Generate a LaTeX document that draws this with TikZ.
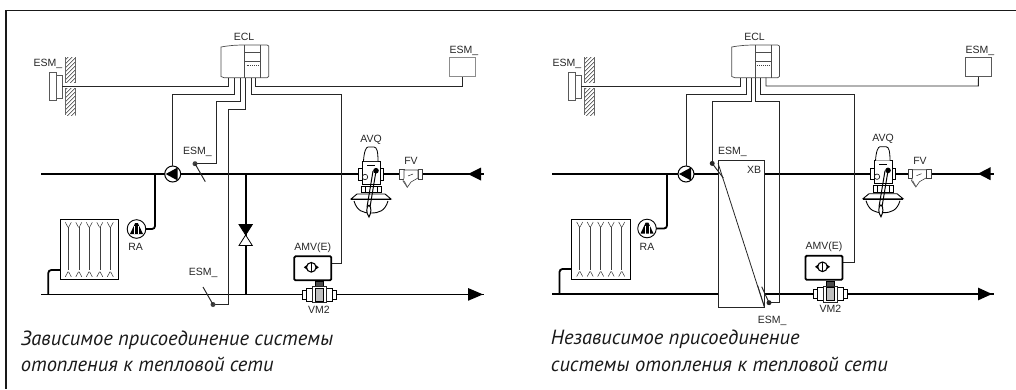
\documentclass[tikz,border=0pt]{standalone}
\usepackage{fontspec}
\setmainfont{Liberation Sans}
\newfontfamily\capfont{PT Sans}
\tikzset{
 x=1pt,y=-1pt,
 frame/.style={line width=1.1pt,draw=black!90},
 pipe/.style={line width=1.8pt,draw=black},
 wire/.style={line width=.95pt,draw=black!85},
 lab/.style={font=\fontsize{10.5}{12}\selectfont,inner sep=0pt,text=black!85,text height=7.6pt,text depth=0pt},
 captext/.style={font=\capfont\itshape\fontsize{20.5}{24}\selectfont,inner sep=0pt,anchor=base west,text=black!90},
 tip/.style={fill=black,draw=none},
 devline/.style={line width=.7pt,draw=black!70},
}
\newcommand{\avq}[1]{\begin{scope}[shift={#1}]
 \draw[line width=.8pt,fill=white] (-12.8,-5.7) rectangle (12.8,6);
 \draw[line width=.8pt,fill=white] (-9,-13)--(9,-13)--(9,10)--(-9,10)--cycle;
 \draw[line width=.8pt,fill=white] (-7.5,-13) .. controls (-7,-22) and (-5,-27) .. (-3,-27) -- (3,-27) .. controls (6,-27) and (7,-22) .. (7,-13);
 \draw[line width=1pt] (-4,-9)--(4,-9);
 \draw[line width=.6pt,fill=white] (-6,3) circle (2.7);
 \draw[line width=.9pt,fill=white] (-10,12) rectangle (10,18.5);
 \draw[line width=.6pt] (-6,12)--(-6,18.5) (6,12)--(6,18.5);
 \draw[line width=.9pt,fill=white] (-20,25) -- (-14,20) -- (14,20)--(20,25) -- cycle;
 \draw[line width=.9pt,fill=white] (-17,27) .. controls (-14,37) and (-8,39) .. (0,39) .. controls (8,39) and (14,37) .. (17,27);
 \draw[line width=.9pt] (-20,25.5) -- (20,25.5);
 \draw[line width=1pt] (5,-3) -- (-1,33) (2,-3)--(-4,33);
 \fill (5,-3.3) circle (2.8);
 \draw[line width=1pt,fill=white] (-2,31) .. controls (-5,33) and (-5,39) .. (-2,43) .. controls (0,39) and (1,34) .. (-2,31);
\end{scope}}
\newcommand{\fvv}[1]{\begin{scope}[shift={#1}]
 \draw[line width=.6pt,draw=black!75,fill=white] (-11.7,-4.8) rectangle (-7,4.8);
 \draw[line width=.6pt,draw=black!75,fill=white] (7,-4.8) rectangle (11.7,4.8);
 \draw[line width=.6pt,draw=black!75,fill=white] (-7,-4)--(7,-4)--(7,4)--(0,8)--(-3.7,13.3)--(-8,7)--(-7,4)--cycle;
 \draw[line width=.4pt] (-3,2)--(2,0);
 \draw[line width=1pt,black!60] (-7,7)--(-3.7,13);
\end{scope}}
\newcommand{\amv}[1]{\begin{scope}[shift={#1}]
 \draw[line width=1.8pt,rounded corners=1.2pt,fill=white] (-18.5,-12) rectangle (18.5,12);
 \draw[line width=1.1pt] (-1.5,-1) circle (4.8);
 \draw[line width=1.1pt] (-1.5,-5.8)--(-1.5,3.8);
 \fill (-9,-1)--(-6,-3.2)--(-6,1.2)--cycle (6,-1)--(3,-3.2)--(3,1.2)--cycle;
\end{scope}}
\newcommand{\vmv}[1]{\begin{scope}[shift={#1}]
 \draw[line width=1pt,fill=black!70] (-4,-13) rectangle (4,-8);
 \draw[line width=.8pt,fill=white] (-17,-4.5) rectangle (-13,4.5);
 \draw[line width=.8pt,fill=white] (13,-4.5) rectangle (17,4.5);
 \draw[line width=.8pt,fill=white] (-13,-6.5) rectangle (-7,6.5);
 \draw[line width=.8pt,fill=white] (7,-6.5) rectangle (13,6.5);
 \draw[line width=1pt,fill=white,draw=black!85] (-7,-8) rectangle (7,8);
 \draw[line width=.4pt,fill=black!25] (-4,-6.5) rectangle (4,6.5);
\end{scope}}
\newcommand{\ecl}[1]{\begin{scope}[shift={#1}]
 \draw[devline,fill=white] (0,2) .. controls (8,.5) and (15,0) .. (24,0) -- (46,0) -- (47.7,1) -- (47.7,31.5) -- (46,32.7) -- (3,32.7)-- (0,31.5) -- cycle;
 \draw[devline] (23.7,0)--(23.7,32.7) (39.5,0)--(39.5,32.7) (23.7,7)--(39.5,7) (23.7,16.3)--(39.5,16.3);
 \draw[line width=.9pt,dash pattern=on 1pt off .9pt,black!75] (25.5,20.7)--(38.5,20.7);
\end{scope}}
\newcommand{\rad}[1]{\begin{scope}[shift={#1}]
 \draw[line width=1pt,fill=white] (0,0) rectangle (58.4,60.5);
 \foreach \q in {8,18.5,29,39.5,50}{
  \draw[line width=.6pt,black!75] (\q,8)--(\q,51);
  \draw[line width=.5pt,black!80] (\q-3,3)--(\q-.3,8) (\q+3,3)--(\q+.3,8) (\q-3,57.5)--(\q-.3,52.5) (\q+3,57.5)--(\q+.3,52.5);}
\end{scope}}
\newcommand{\raV}[1]{\begin{scope}[shift={#1}]
 \draw[line width=.9pt,fill=white] (0,0) circle (9.3);
 \fill (-6.5,5)--(6.5,5)--(1.3,-6)--(-1.3,-6)--cycle;
 \draw[white,line width=.5pt] (-2,5)--(-2,-3) (2,5)--(2,-3);
\end{scope}}
\newcommand{\pump}[1]{\begin{scope}[shift={#1}]
 \draw[line width=1pt,fill=white] (0,0) circle (8);
 \fill (-7,0)--(5,-6.5)--(5,6.5)--cycle;
\end{scope}}
\newcommand{\wall}[1]{\begin{scope}[shift={#1}]
 \begin{scope}
  \clip (0,0) rectangle (10.7,25.5);
  \foreach \k in {0,4,...,40}{\draw[line width=.6pt,black!80] (-1,\k)--(12,\k-13);}
 \end{scope}
 \begin{scope}
  \clip (0,31) rectangle (10.7,58);
  \foreach \k in {30,34,...,76}{\draw[line width=.6pt,black!80] (-1,\k)--(12,\k-13);}
 \end{scope}
 \draw[line width=.5pt,black!60] (0,0)--(0,25.5) (10.7,0)--(10.7,25.5) (0,31)--(0,58) (10.7,31)--(10.7,58);
\end{scope}}
\newcommand{\wsens}[1]{\begin{scope}[shift={#1}]
 \draw[line width=.55pt,black!65,fill=white] (0,0) rectangle (7.4,27.3);
 \draw[line width=.55pt,black!65,fill=white] (7.4,2.6) rectangle (13,25.6);
\end{scope}}
\begin{document}
\begin{tikzpicture}
\useasboundingbox (0,0) rectangle (1016,389);
\draw[frame] (6,10.3) -- (1016,10.3);
\draw[frame] (6,10.3) -- (6,389);
% ---------- left -----------
\coordinate (lsupA) at (41,174); \coordinate (lsupB) at (484,174);
\coordinate (lretA) at (41,294.4); \coordinate (lretB) at (484,294.4);
\coordinate (lrad1) at (60.5,270); \coordinate (lrv) at (136.5,229);
\coordinate (ltee1) at (155,174); \coordinate (ltee2) at (48.3,294.4);
\coordinate (ltee3) at (245.7,174); \coordinate (ltee4) at (245.7,294.4);
\draw[pipe] (lsupA)--(lsupB);
\draw[pipe] (lretA)--(lretB);
\draw[pipe,rounded corners=3pt] (ltee1)|-(lrv);
\draw[pipe] (ltee3)--(ltee4);
\draw[pipe,rounded corners=3pt] (ltee2)|-(lrad1);
\rad{(60.3,219.3)}
\raV{(136.5,229)}
\node[lab] (lRA) at (135.7,247) {RA};
\draw[tip] (468,174)--(481,167.5)--(481,180.5)--cycle;
\draw[tip] (468,288)--(483,294.4)--(468,300.8)--cycle;
\pump{(172.7,174)}
\draw[line width=.8pt,fill=white] (239,245.5)--(252.3,245.5)--(239,224.5)--(252.3,224.5)--cycle;
\fill (238.7,224)--(252.7,224)--(245.7,235)--cycle;
\ecl{(221,45)}
\node[lab] (lECL) at (244,36.5) {ECL};
\wsens{(49.3,72.7)}
\wall{(65,57.3)}
\node[lab,anchor=west] (lesm1) at (33.3,62.3) {ESM\_};
\node[lab,anchor=west] (lesm2) at (183,151) {ESM\_};
\node[lab,anchor=west] (lesm3) at (188.7,271.7) {ESM\_};
\node[lab,anchor=west] (lesm4) at (449.3,50) {ESM\_};
\node[lab] (lavq) at (371,138.3) {AVQ};
\node[lab] (lfv) at (411,161) {FV};
\node[lab] (lamv) at (312.7,247) {AMV(E)};
\node[lab] (lvm) at (319,309.5) {VM2};
\node[line width=1pt,draw=black!45,minimum width=26.4pt,minimum height=19pt,inner sep=0pt] (lroom) at (462.3,67) {};
\coordinate (lw1) at (62.3,86); \coordinate (lw1e) at (228.3,77.5);
\coordinate (lw2) at (172.5,166); \coordinate (lw2e) at (234.3,77.5);
\coordinate (lw3) at (195,163.7); \coordinate (lw3e) at (240,77.5);
\coordinate (lw4) at (213,304.5); \coordinate (lw4e) at (245.7,77.5);
\coordinate (lw5) at (331.5,263.3); \coordinate (lw5e) at (251,77.5);
\coordinate (lw6e) at (255.7,77.5);
\draw[wire] (lw1)-|(lw1e);
\draw[wire] (lw2)|-(234.3,94.3)--(lw2e);
\draw[wire] (lw3)--(216.7,163.7)|-(240,101.7)--(lw3e);
\draw[wire] (lw4)--(228.3,304.5)|-(245.7,109)--(lw4e);
\draw[wire] (lw5e)|-(341.3,94.3)|-(lw5);
\draw[wire] (lw6e)|-(462.3,86.3)--(lroom.south);
\fill[black!75] (lw3) circle (2.5);
\coordinate (ls3) at (205.3,181.7); \draw[wire] (lw3)--(ls3);
\fill[black!75] (lw4) circle (2.5);
\coordinate (ls4) at (203,287); \draw[wire] (lw4)--(ls4);
\avq{(371,174)}
\fvv{(411,174)}
\amv{(312.8,268.3)}
\vmv{(319,294.4)}
% ---------- right -----------
\coordinate (rsupA) at (552,173.7); \coordinate (rsupB) at (994,173.7);
\coordinate (rretA) at (552,294); \coordinate (rretB) at (994,294);
\coordinate (rrad1) at (572,269); \coordinate (rrv) at (647,228.5);
\coordinate (rtee1) at (667,173.7); \coordinate (rtee2) at (559.5,294);
\draw[pipe] (rsupA)--(rsupB);
\draw[pipe] (rretA)--(rretB);
\draw[pipe,rounded corners=3pt] (rtee1)|-(rrv);
\draw[pipe,rounded corners=3pt] (rtee2)|-(rrad1);
\rad{(571.7,219)}
\raV{(647,228.5)}
\node[lab] (rRA) at (647,246.5) {RA};
\draw[tip] (978,173.7)--(990.5,167.2)--(990.5,180.2)--cycle;
\draw[tip] (978,287.6)--(992,294)--(978,300.4)--cycle;
\pump{(686,174)}
\draw[line width=.85pt,fill=white,draw=black!85] (718,160.3) rectangle (764.3,307.3);
\draw[line width=.8pt,black!85] (718,163)--(764.3,307);
\draw[line width=.7pt,black!85] (757.5,285)--(764.3,306);
\ecl{(731.7,45)}
\node[lab] (rECL) at (754.5,36.5) {ECL};
\wsens{(568.3,72.7)}
\wall{(584,57.3)}
\node[lab,anchor=west] (resm1) at (552.5,62.3) {ESM\_};
\node[lab,anchor=west] (resm2) at (718,150.5) {ESM\_};
\node[lab,anchor=west] (resm3) at (757.7,320) {ESM\_};
\node[lab,anchor=west] (resm4) at (965.5,50) {ESM\_};
\node[lab] (rxb) at (754,170) {XB};
\node[lab] (ravq) at (883,138) {AVQ};
\node[lab] (rfv) at (920,160.5) {FV};
\node[lab] (ramv) at (824,246) {AMV(E)};
\node[lab] (rvm) at (830.3,308.5) {VM2};
\node[line width=.7pt,draw=black!65,minimum width=26.2pt,minimum height=19pt,inner sep=0pt] (rroom) at (978.5,67) {};
\coordinate (rw1) at (581.3,86); \coordinate (rw1e) at (740.7,77.5);
\coordinate (rw2) at (686,166); \coordinate (rw2e) at (746,77.5);
\coordinate (rw3) at (712.2,163.4); \coordinate (rw3e) at (751,77.5);
\coordinate (rw4) at (769,302.7); \coordinate (rw4e) at (755.7,77.5);
\coordinate (rw5) at (842.5,262.3); \coordinate (rw5e) at (760.7,77.5);
\coordinate (rw6e) at (766,77.5);
\draw[wire] (rw1)-|(rw1e);
\draw[wire] (rw2)|-(746,94)--(rw2e);
\draw[wire] (rw3)|-(751,101)--(rw3e);
\draw[wire] (rw4e)|-(779.3,101)|-(rw4);
\draw[wire] (rw5e)|-(854,94)|-(rw5);
\draw[wire] (rw6e)|-(978.3,86)--(rroom.south);
\fill[black!85] (rw3) circle (2.5);
\coordinate (rs3) at (723.3,178); \draw[wire] (rw3)--(rs3);
\fill[black!85] (rw4) circle (2.5);
\coordinate (rs4) at (761.7,286.7); \draw[wire] (rw4)--(rs4);
\avq{(883,173.7)}
\fvv{(919.5,173.7)}
\amv{(824,267.8)}
\vmv{(830.3,294)}
% captions
\node[captext] (c1) at (20.7,345) {Зависимое присоединение системы};
\node[captext] (c2) at (20.7,371.7) {отопления к тепловой сети};
\node[captext] (c3) at (550.7,344.5) {Независимое присоединение};
\node[captext] (c4) at (550.7,371.7) {системы отопления к тепловой сети};
\end{tikzpicture}
\end{document}
